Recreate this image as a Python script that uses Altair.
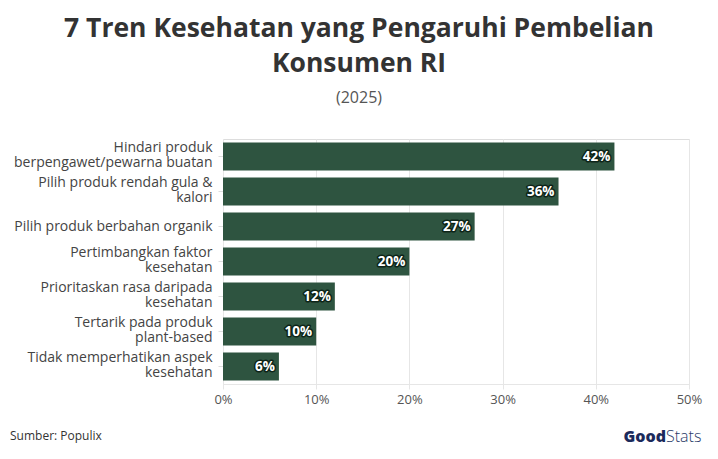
import altair as alt
import pandas as pd

categories = [
    "Hindari produk|berpengawet/pewarna buatan",
    "Pilih produk rendah gula &|kalori",
    "Pilih produk berbahan organik",
    "Pertimbangkan faktor|kesehatan",
    "Prioritaskan rasa daripada|kesehatan",
    "Tertarik pada produk|plant-based",
    "Tidak memperhatikan aspek|kesehatan",
]
values = [42, 36, 27, 20, 12, 10, 6]
labels = [f"{v}%" for v in values]

df = pd.DataFrame({"cat": categories, "val": values, "lab": labels})

BAR = "#2e5440"
FONT = "Open Sans"

y_enc = alt.Y(
    "cat:N",
    sort=categories,
    title=None,
    scale=alt.Scale(paddingInner=0.2, paddingOuter=0.1),
    axis=alt.Axis(
        labelExpr="split(datum.label, '|')",
        labelFont=FONT,
        labelFontSize=14,
        labelColor="#444444",
        labelPadding=6,
        labelLimit=400,
        labelOffset={"condition": {"test": "indexof(datum.value, '|') >= 0", "value": -9}, "value": 0},
        domain=False,
        ticks=True,
        tickColor="#dddddd",
        tickSize=5,
        labelLineHeight=15.5,
        grid=False,
    ),
)
x_enc = alt.X(
    "val:Q",
    title=None,
    scale=alt.Scale(domain=[0, 50]),
    axis=alt.Axis(
        values=[0, 10, 20, 30, 40, 50],
        labelExpr="datum.value + '%'",
        labelFont=FONT,
        labelFontSize=13,
        labelColor="#555555",
        labelPadding=4,
        labelFlush=False,
        grid=True,
        gridColor="#e6e6e6",
        domainColor="#e6e6e6",
        tickColor="#e6e6e6",
        tickSize=5,
    ),
)

bars = alt.Chart(df).mark_bar(color=BAR).encode(x=x_enc, y=y_enc)

halo = alt.Chart(df).mark_text(
    align="right", dx=-4, font=FONT, fontSize=13.5, fontWeight="bold",
    color=BAR, stroke="#0d2418", strokeWidth=3, strokeJoin="round"
).encode(x="val:Q", y=alt.Y("cat:N", sort=categories), text="lab:N")

txt = alt.Chart(df).mark_text(
    align="right", dx=-4, font=FONT, fontSize=13.5, fontWeight="bold", color="white"
).encode(x="val:Q", y=alt.Y("cat:N", sort=categories), text="lab:N")

foot = pd.DataFrame({"t": ["Sumber: Populix"]})
source = alt.Chart(foot).mark_text(
    align="left", baseline="middle", font=FONT, fontSize=12, color="#333333"
).encode(x=alt.value(-213), y=alt.value(297), text="t:N")

good = alt.Chart(pd.DataFrame({"t": ["Good"]})).mark_text(
    align="right", baseline="middle", font=FONT, fontSize=16, fontWeight=800, color="#1b2a5b"
).encode(x=alt.value(443), y=alt.value(298), text="t:N")
stats = alt.Chart(pd.DataFrame({"t": ["Stats"]})).mark_text(
    align="left", baseline="middle", font=FONT, fontSize=16, fontWeight=300, color="#2a3a68"
).encode(x=alt.value(443), y=alt.value(298), text="t:N")

chart = alt.layer(bars, halo, txt, source, good, stats).properties(
    width=466,
    height=245,
    autosize=alt.AutoSizeParams(type="none"),
    padding={"left": 215, "top": 131, "right": 21, "bottom": 75},
    title=alt.TitleParams(
        text=["7 Tren Kesehatan yang Pengaruhi Pembelian", "Konsumen RI"],
        subtitle="(2025)",
        anchor="middle",
        dx=-97,
        font=FONT,
        fontSize=26.5,
        fontWeight="bold",
        color="#333333",
        lineHeight=35,
        subtitleFont=FONT,
        subtitleFontSize=16,
        subtitleColor="#555555",
        subtitlePadding=13,
        offset=33,
    ),
).configure_view(stroke=None).configure(background="white")

chart.save("out.html", embed_options={"renderer": "svg", "actions": False})
